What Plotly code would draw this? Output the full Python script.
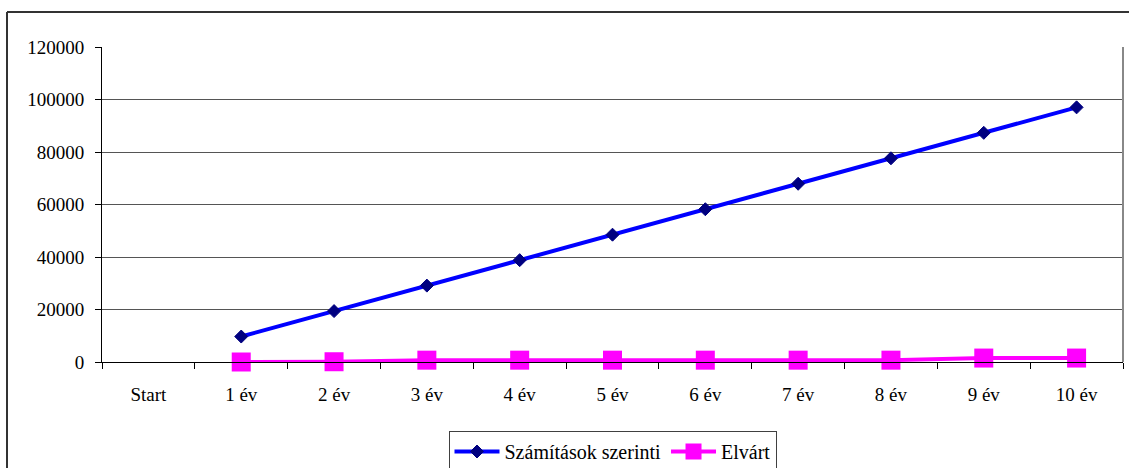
import plotly.graph_objects as go

# Categories and series values
categories = ["Start", "1 év", "2 év", "3 év", "4 év", "5 év", "6 év", "7 év", "8 év", "9 év", "10 év"]
szamitasok = [None, 9700, 19400, 29100, 38800, 48500, 58200, 67900, 77600, 87300, 97000]
elvart = [None, 0, 100, 700, 700, 700, 700, 700, 700, 1500, 1500]
y_ticks = [0, 20000, 40000, 60000, 80000, 100000, 120000]

FONT = "Liberation Serif"

fig = go.Figure()
fig.add_trace(go.Scatter(
    x=categories, y=szamitasok, name="Számítások szerinti",
    mode="lines+markers", cliponaxis=False,
    line=dict(color="#0000FF", width=4),
    marker=dict(symbol="diamond", size=10, color="#000080",
                line=dict(color="#000080", width=1)),
))
fig.add_trace(go.Scatter(
    x=categories, y=elvart, name="Elvárt",
    mode="lines+markers", cliponaxis=False,
    line=dict(color="#FF00FF", width=4),
    marker=dict(symbol="square", size=19, color="#FF00FF"),
))

L, R, T, B = 102, 6, 47, 106
W, H = 1129, 468
pw = W - L - R
ph = H - T - B

def px_x(x):
    return (x - L) / pw

def px_y(y):
    return (H - B - y) / ph

fig.update_layout(
    width=W, height=H,
    margin=dict(l=L, r=R, t=T, b=B, autoexpand=False),
    paper_bgcolor="white", plot_bgcolor="white",
    font=dict(family=FONT, size=19, color="black"),
    showlegend=True,
    legend=dict(
        orientation="h", x=0.5, xanchor="center",
        yref="container", y=(H - 431) / H, yanchor="top",
        bordercolor="#404040", borderwidth=1,
        font=dict(family=FONT, size=20),
        itemwidth=45,
    ),
    xaxis=dict(
        type="category", categoryorder="array", categoryarray=categories,
        range=[-0.5, len(categories) - 0.5],
        showgrid=False, showline=True, linecolor="black", linewidth=1,
        ticks="outside", ticklen=6, tickcolor="black", tickson="boundaries",
        tickfont=dict(family=FONT, size=19), ticklabelstandoff=15,
        zeroline=False, fixedrange=True,
    ),
    yaxis=dict(
        range=[0, 120000], tickvals=y_ticks, ticktext=[str(v) for v in y_ticks],
        showgrid=True, gridcolor="#555555", gridwidth=1,
        showline=True, linecolor="black", linewidth=1,
        ticks="outside", ticklen=6, tickcolor="black",
        tickfont=dict(family=FONT, size=19), ticklabelstandoff=7,
        zeroline=False, fixedrange=True,
    ),
    shapes=[
        # plot area border on the right
        dict(type="line", xref="paper", yref="paper", x0=1, x1=1, y0=0, y1=1,
             line=dict(color="#888888", width=2)),
        # outer chart frame
        dict(type="line", xref="paper", yref="paper",
             x0=px_x(7), x1=px_x(1129), y0=px_y(12), y1=px_y(12),
             line=dict(color="#333333", width=2)),
        dict(type="line", xref="paper", yref="paper",
             x0=px_x(7), x1=px_x(7), y0=px_y(12), y1=px_y(470),
             line=dict(color="#333333", width=2)),
    ],
)

fig.write_html("out.html")
